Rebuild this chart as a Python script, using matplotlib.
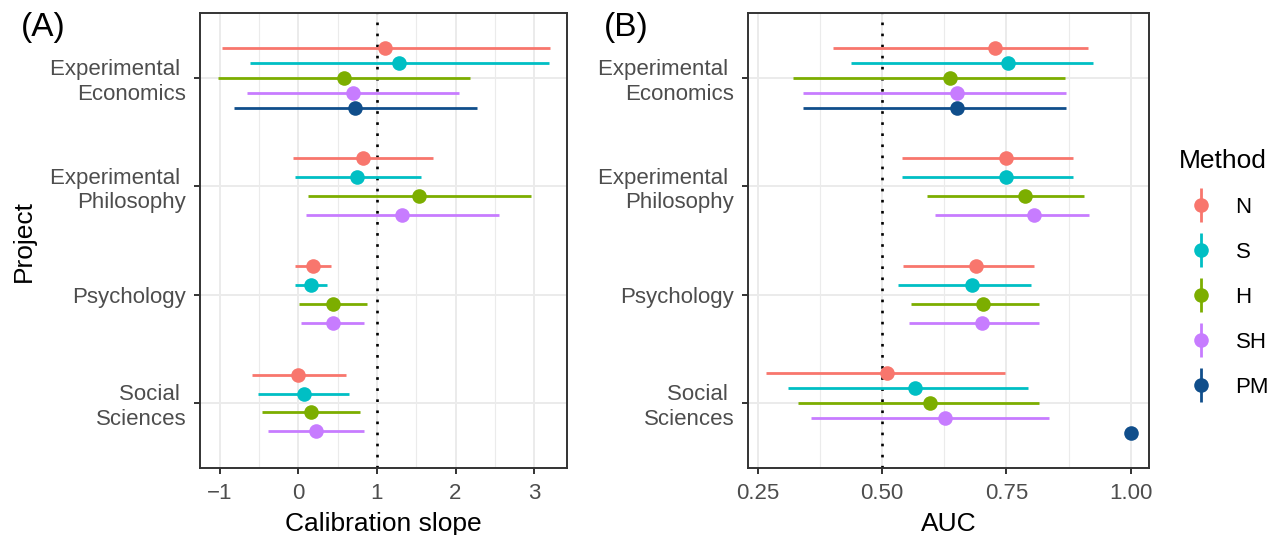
import numpy as np
import matplotlib
matplotlib.use("Agg")
import matplotlib.pyplot as plt
from matplotlib.lines import Line2D
from matplotlib.legend_handler import HandlerTuple
from matplotlib.ticker import MultipleLocator, FormatStrFormatter, FuncFormatter

plt.rcParams["font.family"] = ["Liberation Sans", "DejaVu Sans"]

# Projects from top to bottom, methods in legend order
projects = ["Experimental \nEconomics", "Experimental \nPhilosophy", "Psychology", "Social \nSciences"]
methods = ["N", "S", "H", "SH", "PM"]
colors = ["#F8766D", "#00BFC4", "#7CAE00", "#C77CFF", "#104E8B"]

nan = np.nan

# Calibration slope: rows = methods, columns = projects
slope_est = np.array([
    [1.10, 0.82, 0.18, 0.00],
    [1.28, 0.75, 0.16, 0.07],
    [0.58, 1.53, 0.44, 0.16],
    [0.70, 1.32, 0.44, 0.22],
    [0.72, nan, nan, nan],
])
slope_lo = np.array([
    [-0.98, -0.07, -0.05, -0.59],
    [-0.62, -0.05, -0.05, -0.51],
    [-1.03, 0.12, 0.01, -0.46],
    [-0.66, 0.10, 0.03, -0.39],
    [-0.82, nan, nan, nan],
])
slope_hi = np.array([
    [3.20, 1.71, 0.41, 0.60],
    [3.19, 1.56, 0.36, 0.64],
    [2.19, 2.96, 0.87, 0.78],
    [2.05, 2.55, 0.83, 0.83],
    [2.27, nan, nan, nan],
])

# AUC
auc_est = np.array([
    [0.727, 0.750, 0.689, 0.509],
    [0.754, 0.750, 0.680, 0.567],
    [0.636, 0.788, 0.703, 0.596],
    [0.650, 0.805, 0.701, 0.626],
    [0.650, nan, nan, 1.000],
])
auc_lo = np.array([
    [0.401, 0.540, 0.542, 0.266],
    [0.437, 0.540, 0.531, 0.310],
    [0.320, 0.590, 0.558, 0.330],
    [0.341, 0.607, 0.554, 0.356],
    [0.340, nan, nan, nan],
])
auc_hi = np.array([
    [0.914, 0.885, 0.805, 0.748],
    [0.924, 0.885, 0.799, 0.793],
    [0.867, 0.906, 0.815, 0.816],
    [0.869, 0.917, 0.815, 0.835],
    [0.869, nan, nan, nan],
])

DODGE = 0.7
GRID = "#EBEBEB"
TXT = "#4D4D4D"


def draw_panel(ax, est, lo, hi, ref, xlim, major, minor, xlabel):
    n_proj = len(projects)
    base = np.arange(n_proj)[::-1].astype(float)
    for p in range(n_proj):
        present = [m for m in range(len(methods)) if not np.isnan(est[m, p])]
        n = len(present)
        for k, m in enumerate(present):
            y = base[p] + ((n - 1) / 2 - k) * DODGE / n
            if not np.isnan(lo[m, p]):
                ax.plot([lo[m, p], hi[m, p]], [y, y], color=colors[m], lw=2.0,
                        solid_capstyle="butt", zorder=3)
            ax.plot(est[m, p], y, "o", color=colors[m], ms=10.5, mew=0, zorder=4)

    ax.axvline(ref, color="black", ls=(0, (1, 3.2)), lw=1.9, zorder=2)

    ax.set_xlim(*xlim)
    ax.set_ylim(-0.6, n_proj - 0.4)
    ax.xaxis.set_major_locator(MultipleLocator(major))
    ax.xaxis.set_minor_locator(MultipleLocator(minor))
    ax.set_yticks(base)
    ax.set_yticklabels(projects, ha="right", multialignment="right")

    ax.grid(which="major", color=GRID, lw=1.4, zorder=0)
    ax.grid(which="minor", axis="x", color=GRID, lw=0.8, zorder=0)
    ax.set_axisbelow(True)

    ax.tick_params(axis="both", which="major", labelsize=16, labelcolor=TXT,
                   color="#333333", length=4.5, width=1.4)
    ax.tick_params(axis="x", which="major", pad=6)
    ax.tick_params(axis="y", which="major", pad=5.5)
    ax.tick_params(axis="x", which="minor", length=0)
    for s in ax.spines.values():
        s.set_color("#333333")
        s.set_linewidth(1.4)

    ax.set_xlabel(xlabel, fontsize=19, labelpad=6)


fig = plt.figure(figsize=(12.85, 5.35), dpi=100)
ax1 = fig.add_axes([200 / 1285, 67 / 535, 367 / 1285, 455 / 535])
ax2 = fig.add_axes([748 / 1285, 67 / 535, 401 / 1285, 455 / 535])

draw_panel(ax1, slope_est, slope_lo, slope_hi, 1.0, (-1.254, 3.42), 1, 0.5,
           "Calibration slope")
draw_panel(ax2, auc_est, auc_lo, auc_hi, 0.5, (0.230, 1.037), 0.25, 0.125, "AUC")
ax2.xaxis.set_major_formatter(FormatStrFormatter("%.2f"))
ax1.xaxis.set_major_formatter(
    FuncFormatter(lambda v, _: f"{v:.0f}".replace("-", "\u2212")))

ax1.set_ylabel("Project", fontsize=19, labelpad=10)

# panel tags
fig.text(21 / 1285, 1 - 12 / 535, "(A)", fontsize=24, ha="left", va="top")
fig.text(604 / 1285, 1 - 12 / 535, "(B)", fontsize=24, ha="left", va="top")

# legend keys: vertical bar with a point on it
handles = []
for c in colors:
    bar = Line2D([], [], color=c, marker="|", ms=24, mew=2.0, ls="none")
    dot = Line2D([], [], color=c, marker="o", ms=10.5, mew=0, ls="none")
    handles.append((bar, dot))
fig.legend(handles, methods, handler_map={tuple: HandlerTuple(ndivide=1)},
           title="Method", loc="upper left", bbox_to_anchor=(1170 / 1285, 1 - 140 / 535),
           frameon=False, fontsize=16, title_fontsize=19, labelspacing=1.08,
           handlelength=2.0, handletextpad=0.55, borderaxespad=0,
           alignment="left")

fig.savefig("out.png", dpi=100)
